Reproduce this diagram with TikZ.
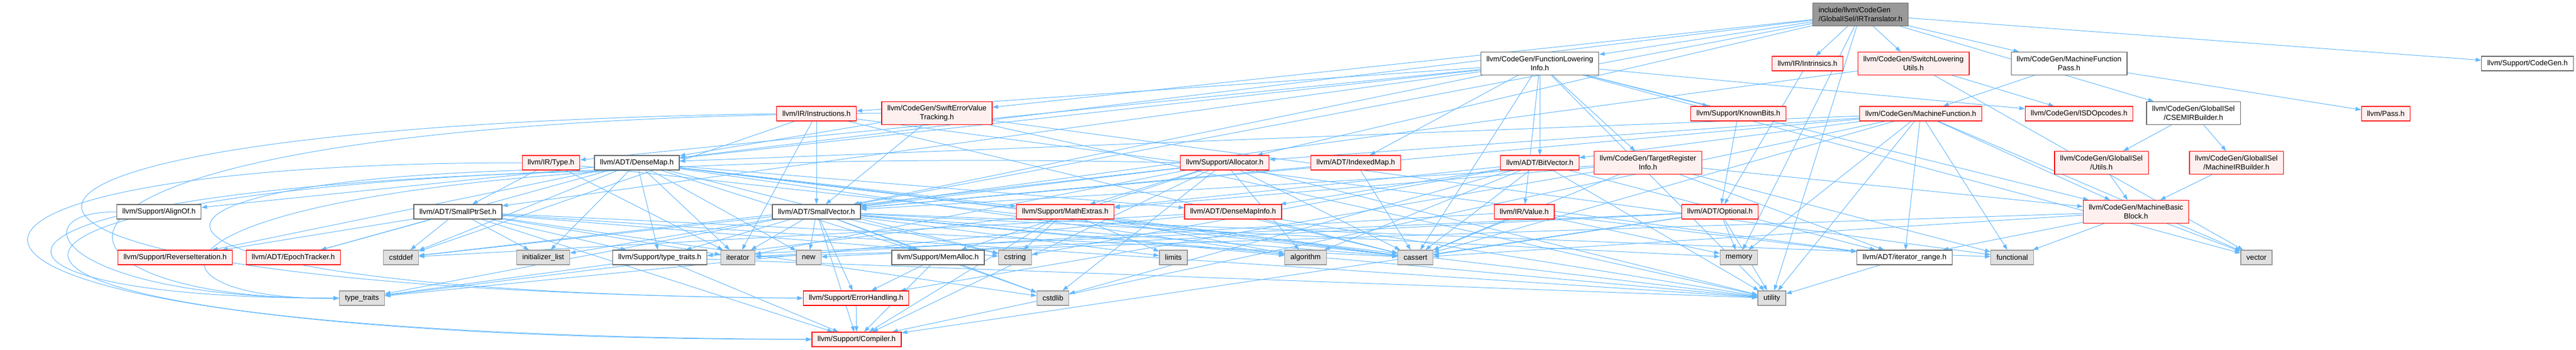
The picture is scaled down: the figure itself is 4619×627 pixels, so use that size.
\documentclass[tikz,border=0pt]{standalone}
\usepackage{fontspec}
\setmainfont{Liberation Sans}
\usetikzlibrary{arrows.meta}
\definecolor{edgec}{HTML}{63B8FF}
\definecolor{nodegray}{HTML}{666666}
\definecolor{redfill}{HTML}{FFF0F0}
\definecolor{sysfill}{HTML}{E0E0E0}
\definecolor{sysborder}{HTML}{999999}
\definecolor{mainfill}{HTML}{999999}
\pgfdeclarelayer{bg}
\pgfsetlayers{bg,main}
\tikzset{
  nd/.style={rectangle, draw=nodegray, fill=white, line width=1.2pt, inner xsep=10pt, inner ysep=2pt,
    minimum height=26pt, align=center, font=\fontsize{13.2}{15.6}\selectfont},
  twol/.style={minimum height=41pt},
  redn/.style={nd, draw=red, fill=redfill},
  sysn/.style={nd, draw=sysborder, fill=sysfill},
  mainn/.style={nd, twol, draw=nodegray, fill=mainfill, align=left},
  edg/.style={draw=edgec, line width=1pt, -{Triangle[length=10pt,width=7pt]}},
}
\begin{document}
\begin{tikzpicture}[x=1pt,y=-1pt]
\useasboundingbox (0,0) rectangle (4619,627);
% row 0
\node[mainn] (main) at (3336,26) {include/llvm/CodeGen\\/GlobalISel/IRTranslator.h};
% row 1
\node[nd,twol] (fli) at (2761,114) {llvm/CodeGen/FunctionLowering\\Info.h};
\node[redn] (intr) at (3241,114) {llvm/IR/Intrinsics.h};
\node[redn,twol] (swl) at (3431,114) {llvm/CodeGen/SwitchLowering\\Utils.h};
\node[nd,twol] (mfp) at (3710,114) {llvm/CodeGen/MachineFunction\\Pass.h};
\node[nd] (scg) at (4532,114) {llvm/Support/CodeGen.h};
% row 2
\node[redn] (instr) at (1464,204) {llvm/IR/Instructions.h};
\node[redn,twol] (swe) at (1680,203) {llvm/CodeGen/SwiftErrorValue\\Tracking.h};
\node[redn] (kb) at (3117,204) {llvm/Support/KnownBits.h};
\node[redn] (mf) at (3444,204) {llvm/CodeGen/MachineFunction.h};
\node[redn] (isd) at (3728,204) {llvm/CodeGen/ISDOpcodes.h};
\node[nd,twol] (cse) at (3933,203) {llvm/CodeGen/GlobalISel\\/CSEMIRBuilder.h};
\node[redn] (pass) at (4278,204) {llvm/Pass.h};
% row 3
\node[redn] (irtype) at (988,292) {llvm/IR/Type.h};
\node[nd] (dmap) at (1142,292) {llvm/ADT/DenseMap.h};
\node[redn] (alloc) at (2196,292) {llvm/Support/Allocator.h};
\node[redn] (imap) at (2431,292) {llvm/ADT/IndexedMap.h};
\node[redn] (bvec) at (2761,292) {llvm/ADT/BitVector.h};
\node[redn,twol] (tri) at (2955,292) {llvm/CodeGen/TargetRegister\\Info.h};
\node[redn,twol] (gutils) at (3768,292) {llvm/CodeGen/GlobalISel\\/Utils.h};
\node[redn,twol] (mirb) at (4010,292) {llvm/CodeGen/GlobalISel\\/MachineIRBuilder.h};
% row 4
\node[nd] (alignof) at (285,380) {llvm/Support/AlignOf.h};
\node[nd] (sps) at (821,380) {llvm/ADT/SmallPtrSet.h};
\node[nd] (svec) at (1464,380) {llvm/ADT/SmallVector.h};
\node[redn] (mext) at (1910,380) {llvm/Support/MathExtras.h};
\node[redn] (dmi) at (2211,380) {llvm/ADT/DenseMapInfo.h};
\node[redn] (irval) at (2733,380) {llvm/IR/Value.h};
\node[redn] (opt) at (3084,380) {llvm/ADT/Optional.h};
\node[redn,twol] (mbb) at (3830,380) {llvm/CodeGen/MachineBasic\\Block.h};
% row 5
\node[redn] (revit) at (314,462) {llvm/Support/ReverseIteration.h};
\node[redn] (epoch) at (526,462) {llvm/ADT/EpochTracker.h};
\node[sysn] (cstddef) at (719,462) {cstddef};
\node[sysn] (initl) at (974,462) {initializer\_list};
\node[nd] (ttraith) at (1183,462) {llvm/Support/type\_traits.h};
\node[sysn] (iter) at (1323,462) {iterator};
\node[sysn] (nnew) at (1450,462) {new};
\node[nd] (memalloc) at (1682,462) {llvm/Support/MemAlloc.h};
\node[sysn] (cstring) at (1820,462) {cstring};
\node[sysn] (limits) at (2104,462) {limits};
\node[sysn] (algo) at (2341,462) {algorithm};
\node[sysn] (cassert) at (2538,462) {cassert};
\node[sysn] (memory) at (3118,462) {memory};
\node[nd] (itrange) at (3415,462) {llvm/ADT/iterator\_range.h};
\node[sysn] (functional) at (3608,462) {functional};
\node[sysn] (vector) at (4046,462) {vector};
% row 6
\node[sysn] (ttraits) at (649,535) {type\_traits};
\node[redn] (errh) at (1535,535) {llvm/Support/ErrorHandling.h};
\node[sysn] (cstdlib) at (1888,535) {cstdlib};
\node[sysn] (utility) at (3177,535) {utility};
% row 7
\node[redn] (compiler) at (1536,609) {llvm/Support/Compiler.h};

\begin{pgfonlayer}{bg}
\foreach \a/\b in {
  main/fli, main/intr, main/swl, main/mfp, main/scg, main/swe, main/cse, main/dmap, main/svec, main/alloc, main/memory, main/utility,
  fli/instr, fli/irtype, fli/dmap, fli/sps, fli/svec, fli/imap, fli/bvec, fli/tri, fli/irval, fli/kb, fli/isd, fli/mbb, fli/cassert, fli/utility, fli/vector,
  intr/opt,
  swl/isd, swl/svec, swl/vector,
  mfp/mf, mfp/pass,
  swe/dmap, swe/svec, swe/functional, swe/utility,
  cse/gutils, cse/mirb,
  instr/svec, instr/iter, instr/itrange, instr/cassert, instr/cstddef,
  kb/opt,
  mf/bvec, mf/dmap, mf/svec, mf/mbb, mf/alloc, mf/compiler, mf/cassert, mf/memory, mf/utility, mf/vector, mf/itrange, mf/functional,
  irtype/sps, irtype/cassert, irtype/iter,
  dmap/dmi, dmap/epoch, dmap/alignof, dmap/mext, dmap/memalloc, dmap/revit, dmap/ttraith, dmap/algo, dmap/cassert, dmap/cstddef, dmap/cstring, dmap/initl, dmap/iter, dmap/nnew, dmap/utility,
  alloc/svec, alloc/mext, alloc/memalloc, alloc/compiler, alloc/algo, alloc/cassert, alloc/cstddef, alloc/cstdlib, alloc/iter, alloc/utility,
  imap/svec, imap/cassert,
  bvec/dmi, bvec/itrange, bvec/mext, bvec/algo, bvec/cassert, bvec/cstdlib, bvec/cstring, bvec/utility,
  tri/svec, tri/itrange, tri/mbb, tri/errh, tri/mext, tri/cassert, tri/functional,
  gutils/mbb, mirb/mbb,
  sps/epoch, sps/revit, sps/ttraith, sps/compiler, sps/cassert, sps/cstddef, sps/cstdlib, sps/cstring, sps/initl, sps/iter, sps/utility,
  svec/compiler, svec/errh, svec/memalloc, svec/ttraith, svec/algo, svec/cassert, svec/cstddef, svec/cstdlib, svec/cstring, svec/functional, svec/initl, svec/iter, svec/limits, svec/memory, svec/nnew, svec/ttraits, svec/utility,
  mext/compiler, mext/cassert, mext/cstring, mext/limits, mext/ttraits, mext/algo,
  dmi/cassert, dmi/cstddef, dmi/ttraits, dmi/utility,
  irval/itrange, irval/cassert, irval/iter, irval/memory,
  opt/compiler, opt/ttraith, opt/cassert, opt/memory, opt/nnew, opt/utility,
  mbb/itrange, mbb/cassert, mbb/functional, mbb/iter, mbb/vector,
  ttraith/compiler, ttraith/ttraits, ttraith/utility,
  memalloc/compiler, memalloc/errh, memalloc/cstdlib,
  itrange/utility, errh/compiler}
  \draw[edg] (\a) -- (\b);
% loops round the left side
\draw[edg] (irtype.west) .. controls (-320,292) and (-320,609) .. (compiler.west);
\draw[edg] (dmap.south) .. controls (-150,330) and (-150,535) .. (ttraits.west);
\draw[edg] (dmap.south west) .. controls (-250,350) and (-250,600) .. (compiler.west);
\draw[edg] (alignof.west) .. controls (30,380) and (100,535) .. (ttraits.west);
\draw[edg] (swe.west) .. controls (-100,215) and (0,540) .. (ttraits.west);
\draw[edg] (alloc.west) .. controls (200,250) and (150,540) .. (ttraits.west);
\draw[edg] (instr.west) .. controls (-300,230) and (-250,520) .. (errh.west);
\draw[edg] (irtype.south west) .. controls (100,330) and (150,525) .. (errh.west);
\end{pgfonlayer}
\end{tikzpicture}
\end{document}
